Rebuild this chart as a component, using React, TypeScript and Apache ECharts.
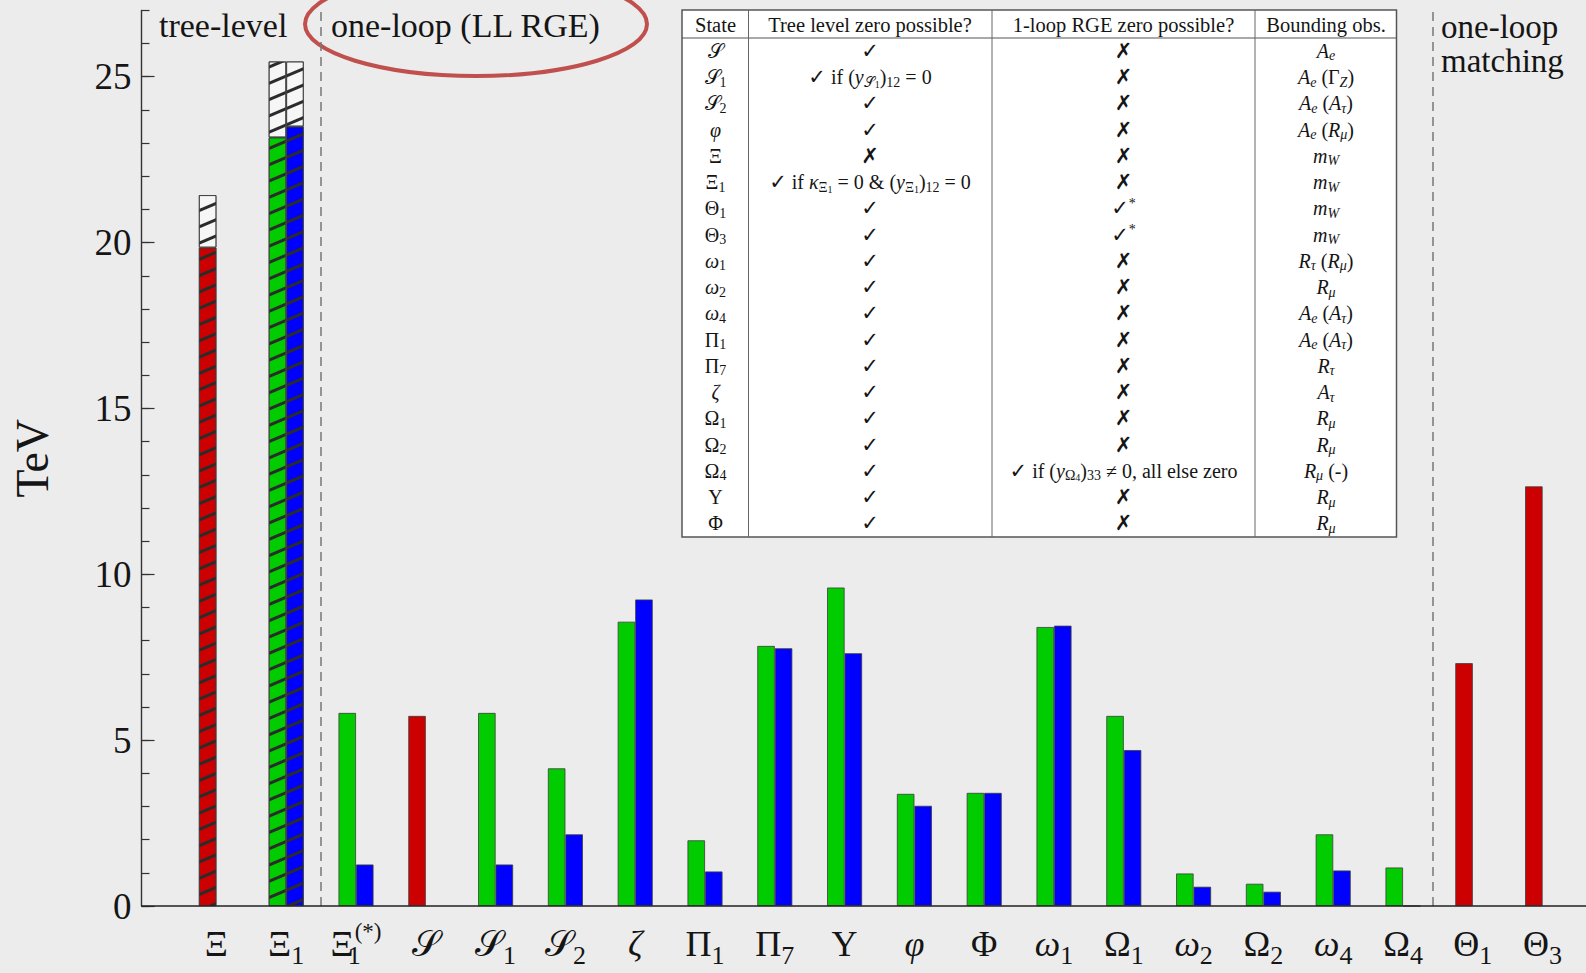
import React, { useEffect, useRef } from "react";
import * as echarts from "echarts";

// ---------- data ----------
const categories = [
  "{m|Ξ}",
  "{m|Ξ}{s|1}",
  "{m|Ξ}{s0|1}{p|(*)}",
  "{m|𝒮}",
  "{m|𝒮}{s|1}",
  "{m|𝒮}{s|2}",
  "{mi|ζ}",
  "{m|Π}{s|1}",
  "{m|Π}{s|7}",
  "{m|Υ}",
  "{mi|φ}",
  "{m|Φ}",
  "{mi|ω}{s|1}",
  "{m|Ω}{s|1}",
  "{mi|ω}{s|2}",
  "{m|Ω}{s|2}",
  "{mi|ω}{s|4}",
  "{m|Ω}{s|4}",
  "{m|Θ}{s|1}",
  "{m|Θ}{s|3}",
];

// red: tree-level / one-loop matching bounds (TeV)
const redValues = [19.85, null, null, 5.73, null, null, null, null, null, null, null, null, null, null, null, null, null, null, 7.32, 12.65];
// green: first bar of each pair
const greenValues = [null, 23.17, 5.82, null, 5.82, 4.15, 8.57, 1.98, 7.84, 9.6, 3.38, 3.41, 8.41, 5.73, 0.98, 0.67, 2.16, 1.16, null, null];
// blue: second bar of each pair
const blueValues = [null, 23.5, 1.25, null, 1.25, 2.16, 9.24, 1.04, 7.77, 7.62, 3.02, 3.41, 8.45, 4.7, 0.58, 0.43, 1.07, 0, null, null];
// tops of the hatched (open) extensions
const hatchTopLeft = [21.43, 25.46, null, null, null, null, null, null, null, null, null, null, null, null, null, null, null, null, null, null];
const hatchTopRight = [null, 25.46, null, null, null, null, null, null, null, null, null, null, null, null, null, null, null, null, null, null];
// categories whose bars are hatched
const hatchedCategories = [0, 1];

const majorTicks = [0, 5, 10, 15, 20, 25];
const sectionBoundaries = [2, 17.92];

// table
const tableHeader = ["State", "Tree level zero possible?", "1-loop RGE zero possible?", "Bounding obs."];
const tableState = [
  "{n|𝒮}", "{n|𝒮}{s|1}", "{n|𝒮}{s|2}", "{i|φ}", "{n|Ξ}", "{n|Ξ}{s|1}", "{n|Θ}{s|1}", "{n|Θ}{s|3}",
  "{i|ω}{s|1}", "{i|ω}{s|2}", "{i|ω}{s|4}", "{n|Π}{s|1}", "{n|Π}{s|7}", "{i|ζ}", "{n|Ω}{s|1}",
  "{n|Ω}{s|2}", "{n|Ω}{s|4}", "{n|Υ}", "{n|Φ}",
];
const tableTree = [
  "{k|✓}",
  "{k|✓}{n| if (}{i|y}{s|𝒮}{ss|1}{n|)}{s|12}{n| = 0}",
  "{k|✓}", "{k|✓}", "{k|✗}",
  "{k|✓}{n| if }{i|κ}{s|Ξ}{ss|1}{n| = 0 & (}{i|y}{s|Ξ}{ss|1}{n|)}{s|12}{n| = 0}",
  "{k|✓}", "{k|✓}", "{k|✓}", "{k|✓}", "{k|✓}", "{k|✓}", "{k|✓}", "{k|✓}", "{k|✓}", "{k|✓}", "{k|✓}", "{k|✓}", "{k|✓}",
];
const tableLoop = [
  "{k|✗}", "{k|✗}", "{k|✗}", "{k|✗}", "{k|✗}", "{k|✗}", "{k|✓}{ks|*}", "{k|✓}{ks|*}",
  "{k|✗}", "{k|✗}", "{k|✗}", "{k|✗}", "{k|✗}", "{k|✗}", "{k|✗}", "{k|✗}",
  "{k|✓}{n| if (}{i|y}{s|Ω}{ss|4}{n|)}{s|33}{n| ≠ 0, all else zero}",
  "{k|✗}", "{k|✗}",
];
const tableBound = [
  "{i|A}{si|e}", "{i|A}{si|e}{n| (Γ}{si|Z}{n|)}", "{i|A}{si|e}{n| (}{i|A}{si|τ}{n|)}", "{i|A}{si|e}{n| (}{i|R}{si|μ}{n|)}",
  "{i|m}{si|W}", "{i|m}{si|W}", "{i|m}{si|W}", "{i|m}{si|W}", "{i|R}{si|τ}{n| (}{i|R}{si|μ}{n|)}",
  "{i|R}{si|μ}", "{i|A}{si|e}{n| (}{i|A}{si|τ}{n|)}", "{i|A}{si|e}{n| (}{i|A}{si|τ}{n|)}", "{i|R}{si|τ}",
  "{i|A}{si|τ}", "{i|R}{si|μ}", "{i|R}{si|μ}", "{i|R}{si|μ}{n| (-)}", "{i|R}{si|μ}", "{i|R}{si|μ}",
];

// ---------- styling ----------
const SERIF = '"Liberation Serif", "DejaVu Serif", serif';
const TXT = "#151515";
const BAR_W = 17.5;

const hatchDecal = {
  symbol: "rect",
  symbolSize: 1,
  color: "#2b2b2b",
  dashArrayX: [1, 0],
  dashArrayY: [2.4, 11.6],
  rotation: -0.4,
};

function withHatch(values: (number | null)[]) {
  return values.map((v, i) =>
    v != null && hatchedCategories.includes(i) ? { value: v, itemStyle: { decal: hatchDecal } } : v
  );
}

function hatchExtent(tops: (number | null)[], bases: (number | null)[][]) {
  return tops.map((t, i) => {
    if (t == null) return null;
    const b = bases.map((arr) => arr[i]).find((x) => x != null) as number;
    return Math.round((t - b) * 100) / 100;
  });
}

const xRich = {
  m: { fontFamily: SERIF, fontSize: 36, lineHeight: 48, color: TXT },
  mi: { fontFamily: SERIF, fontSize: 36, lineHeight: 48, fontStyle: "italic", color: TXT },
  s: { fontFamily: SERIF, fontSize: 26, lineHeight: 30, verticalAlign: "bottom", color: TXT },
  s0: { fontFamily: SERIF, fontSize: 26, lineHeight: 10, verticalAlign: "bottom", width: 1, color: TXT },
  p: { fontFamily: SERIF, fontSize: 23, lineHeight: 24, verticalAlign: "top", color: TXT },
};

const tRich = {
  n: { fontFamily: SERIF, fontSize: 20, lineHeight: 24 },
  i: { fontFamily: SERIF, fontSize: 20, lineHeight: 24, fontStyle: "italic" },
  s: { fontFamily: SERIF, fontSize: 14, lineHeight: 15, verticalAlign: "bottom" },
  si: { fontFamily: SERIF, fontSize: 14, lineHeight: 15, verticalAlign: "bottom", fontStyle: "italic" },
  ss: { fontFamily: SERIF, fontSize: 10, lineHeight: 8, verticalAlign: "bottom" },
  k: { fontFamily: '"DejaVu Sans", sans-serif', fontSize: 21, lineHeight: 24, fontWeight: "bold" },
  ks: { fontFamily: SERIF, fontSize: 14, lineHeight: 13, verticalAlign: "top" },
};

function buildTable() {
  const x0 = 682, x1 = 1396.5, y0 = 10, y1 = 537;
  const dividers = [748.5, 992, 1255];
  const colCenters = [715.5, 870, 1123.5, 1326];
  const headerY = 24.5, headerLine = 38, rowY0 = 50.8, rowH = 26.25;
  const els: any[] = [
    { type: "rect", shape: { x: x0, y: y0, width: x1 - x0, height: y1 - y0 }, style: { fill: "#ffffff", stroke: "#555", lineWidth: 1.5 } },
    { type: "line", shape: { x1: x0, y1: headerLine, x2: x1, y2: headerLine }, style: { stroke: "#555", lineWidth: 1.2 } },
  ];
  dividers.forEach((dx) =>
    els.push({ type: "line", shape: { x1: dx, y1: y0, x2: dx, y2: y1 }, style: { stroke: "#666", lineWidth: 1 } })
  );
  tableHeader.forEach((h, c) =>
    els.push({ type: "text", x: colCenters[c], y: headerY, style: { text: h, fontFamily: SERIF, fontSize: 20.5, fill: TXT, align: "center", verticalAlign: "middle" } })
  );
  const cols = [tableState, tableTree, tableLoop, tableBound];
  tableState.forEach((_, r) => {
    cols.forEach((col, c) => {
      els.push({
        type: "text",
        x: colCenters[c],
        y: rowY0 + r * rowH,
        style: { text: col[r], rich: tRich, fill: TXT, align: "center", verticalAlign: "middle" },
      });
    });
  });
  return els;
}

export default function App() {
  const ref = useRef<HTMLDivElement>(null);
  useEffect(() => {
    document.body.style.margin = "0";
    const chart = echarts.init(ref.current!, undefined, { renderer: "svg" });
    const barBase = { type: "bar", barWidth: BAR_W, barGap: "0%", xAxisIndex: 0, yAxisIndex: 0 };
    const border = { borderColor: "#3c3c3c", borderWidth: 0.8 };
    const option: any = {
      animation: false,
      backgroundColor: "#ececec",
      grid: { left: 181.5, right: 8.5, top: 10.4, bottom: 67, outerBoundsMode: "none" },
      xAxis: [
        {
          type: "category",
          data: categories,
          axisLine: { show: false },
          axisTick: { show: false },
          axisLabel: { interval: 0, margin: 14, formatter: (v: string) => v, rich: xRich, color: TXT },
        },
        { type: "value", min: 0, max: 20, show: false },
      ],
      yAxis: [
        {
          type: "value",
          min: 0,
          max: 27,
          interval: 5,
          offset: 40,
          position: "left",
          name: "TeV",
          nameLocation: "middle",
          nameGap: 86,
          nameRotate: 90,
          nameTextStyle: { fontFamily: SERIF, fontSize: 46, color: TXT },
          axisLine: { show: true, onZero: false, lineStyle: { color: "#333", width: 1.4 } },
          axisTick: { show: true, inside: true, length: 13, customValues: majorTicks, lineStyle: { color: "#333", width: 1.2 } },
          axisLabel: { customValues: majorTicks, margin: 10, fontFamily: SERIF, fontSize: 37, color: TXT },
          splitLine: { show: false },
        },
        {
          type: "value",
          min: 0,
          max: 27,
          interval: 1,
          offset: 40,
          position: "left",
          axisLine: { show: false, onZero: false },
          axisTick: { show: true, inside: true, length: 8, lineStyle: { color: "#333", width: 1.2 } },
          axisLabel: { show: false },
          splitLine: { show: false },
        },
      ],
      series: [
        { ...barBase, name: "tree-level", stack: "L", data: withHatch(redValues), itemStyle: { color: "#cc0000", ...border } },
        { ...barBase, name: "green", stack: "L", data: withHatch(greenValues), itemStyle: { color: "#00cc00", ...border } },
        { ...barBase, name: "blue", stack: "R", data: withHatch(blueValues), itemStyle: { color: "#0000ff", ...border } },
        {
          ...barBase,
          name: "hatch-left",
          stack: "L",
          data: hatchExtent(hatchTopLeft, [greenValues, redValues]),
          itemStyle: { color: "#f6f6f6", decal: hatchDecal, ...border },
        },
        {
          ...barBase,
          name: "hatch-right",
          stack: "R",
          data: hatchExtent(hatchTopRight, [blueValues]),
          itemStyle: { color: "#f6f6f6", decal: hatchDecal, ...border },
        },
        {
          type: "line",
          name: "sections",
          xAxisIndex: 1,
          yAxisIndex: 0,
          data: [],
          markLine: {
            silent: true,
            symbol: "none",
            label: { show: false },
            lineStyle: { type: [9, 6], color: "#777", width: 1.5 },
            data: sectionBoundaries.map((b) => ({ xAxis: b })),
          },
        },
      ],
      graphic: [
        { type: "line", shape: { x1: 141.5, y1: 906, x2: 1586, y2: 906 }, style: { stroke: "#222", lineWidth: 1.5 }, z: 10 },
        { type: "text", x: 159, y: 25, style: { text: "tree-level", fontFamily: SERIF, fontSize: 34, fill: TXT, align: "left", verticalAlign: "middle" } },
        { type: "text", x: 331, y: 25, style: { text: "one-loop (LL RGE)", fontFamily: SERIF, fontSize: 34, fill: TXT, align: "left", verticalAlign: "middle" } },
        { type: "ellipse", shape: { cx: 476, cy: 24, rx: 171, ry: 52 }, style: { fill: "none", stroke: "#c0504d", lineWidth: 4 } },
        { type: "text", x: 1441, y: 27, style: { text: "one-loop", fontFamily: SERIF, fontSize: 33, fill: TXT, align: "left", verticalAlign: "middle" } },
        { type: "text", x: 1441, y: 60.5, style: { text: "matching", fontFamily: SERIF, fontSize: 33, fill: TXT, align: "left", verticalAlign: "middle" } },
        ...buildTable(),
      ],
    };
    chart.setOption(option);
    return () => chart.dispose();
  }, []);
  return <div ref={ref} style={{ position: "absolute", left: 0, top: 0, width: 1586, height: 973 }} />;
}
